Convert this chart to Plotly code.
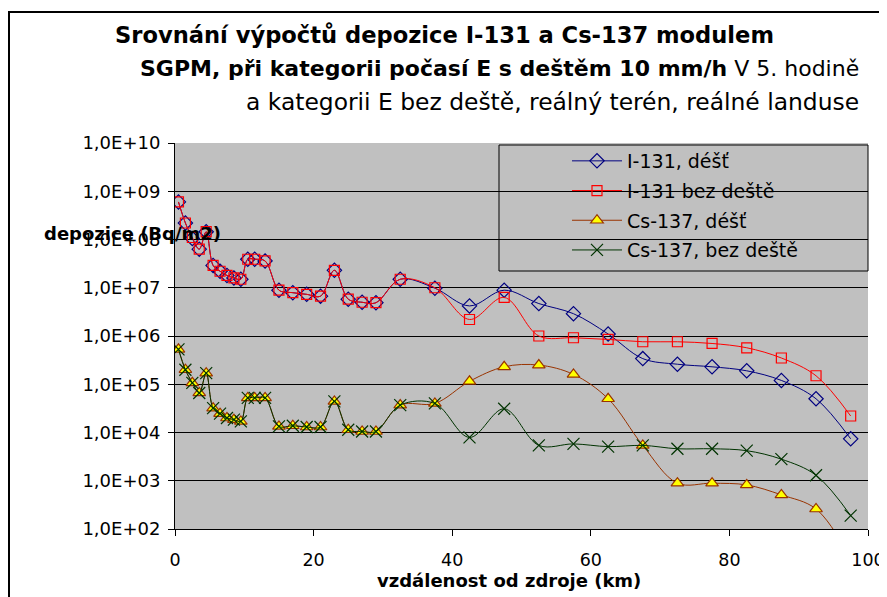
import plotly.graph_objects as go

# ---------------- data ----------------
distance_km = [0.5, 1.5, 2.5, 3.5, 4.5, 5.5, 6.5, 7.5, 8.5, 9.5, 10.5, 11.5, 13, 15, 17, 19, 21,
               23, 25, 27, 29, 32.5, 37.5, 42.5, 47.5, 52.5, 57.5, 62.5, 67.5, 72.5, 77.5,
               82.5, 87.5, 92.5, 97.5]

i131_rain = [6.0e8, 2.2e8, 1.05e8, 6.3e7, 1.45e8, 2.9e7, 2.2e7, 1.8e7, 1.6e7, 1.5e7, 3.9e7,
             3.9e7, 3.6e7, 8.9e6, 7.9e6, 7.3e6, 6.7e6, 2.3e7, 5.8e6, 5.0e6, 4.9e6, 1.5e7,
             9.8e6, 4.2e6, 8.9e6, 4.7e6, 2.9e6, 1.1e6, 3.4e5, 2.6e5, 2.3e5, 1.9e5, 1.2e5,
             5.0e4, 7.4e3]

i131_dry = [6.0e8, 2.2e8, 1.1e8, 6.3e7, 1.45e8, 2.9e7, 2.2e7, 1.8e7, 1.6e7, 1.5e7, 3.9e7,
            3.9e7, 3.6e7, 8.9e6, 7.9e6, 7.3e6, 6.7e6, 2.3e7, 5.8e6, 5.0e6, 4.9e6, 1.5e7,
            1.0e7, 2.2e6, 6.3e6, 1.0e6, 9.2e5, 8.5e5, 7.6e5, 7.6e5, 7.0e5, 5.7e5, 3.5e5,
            1.5e5, 2.2e4]

cs137_rain = [5.3e5, 2.0e5, 1.07e5, 6.6e4, 1.7e5, 3.2e4, 2.46e4, 2.0e4, 1.85e4, 1.7e4, 5.2e4,
              5.2e4, 5.2e4, 1.34e4, 1.38e4, 1.3e4, 1.3e4, 4.4e4, 1.14e4, 1.05e4, 1.05e4, 3.7e4,
              4.0e4, 1.15e5, 2.3e5, 2.5e5, 1.6e5, 5.0e4, 5.4e3, 8.9e2, 8.9e2, 8.2e2, 5.1e2,
              2.6e2, 25]

cs137_dry = [5.3e5, 2.0e5, 1.07e5, 6.6e4, 1.7e5, 3.2e4, 2.46e4, 2.0e4, 1.85e4, 1.7e4, 5.2e4,
             5.2e4, 5.2e4, 1.34e4, 1.38e4, 1.3e4, 1.3e4, 4.4e4, 1.14e4, 1.05e4, 1.05e4, 3.7e4,
             4.0e4, 7.9e3, 3.1e4, 5.4e3, 5.8e3, 5.1e3, 5.4e3, 4.6e3, 4.6e3, 4.2e3, 2.8e3,
             1.3e3, 1.9e2]

series_names = ["I-131, déšť", "I-131 bez deště", "Cs-137, déšť", "Cs-137, bez deště"]

y_tick_values = [1e2, 1e3, 1e4, 1e5, 1e6, 1e7, 1e8, 1e9, 1e10]
y_tick_labels = ["1,0E+02", "1,0E+03", "1,0E+04", "1,0E+05", "1,0E+06",
                 "1,0E+07", "1,0E+08", "1,0E+09", "1,0E+10"]
x_tick_values = [0, 20, 40, 60, 80, 100]

title_line1 = "Srovnání výpočtů depozice I-131 a Cs-137 modulem"
title_line2_bold = "SGPM, při kategorii počasí E s deštěm 10 mm/h"
title_line2_rest = " V 5. hodině"
title_line3 = "a kategorii E bez deště, reálný terén, reálné landuse"
x_title = "vzdálenost od zdroje (km)"
y_title = "depozice (Bq/m2)"

# ---------------- layout geometry ----------------
# the page body has an 8px margin, so the figure is placed 8px in from the window corner
OFF = 8
W, H = 887 - OFF, 597 - OFF
# plot area in window pixels: left 175, right 868, top 143, bottom 529
L, T = 175 - OFF, 143 - OFF
R = W - (868 - OFF)
B = H - (529 - OFF)
PW, PH = W - L - R, H - T - B


def px(xp):
    """window x pixel -> paper x"""
    return (xp - OFF - L) / PW


def py(yp):
    """window y pixel -> paper y"""
    return (H - B - (yp - OFF)) / PH


FONT = "DejaVu Sans"

fig = go.Figure()

fig.add_trace(go.Scatter(
    x=distance_km, y=i131_rain, name=series_names[0], mode="lines+markers",
    line=dict(color="#000080", width=1, shape="spline"),
    marker=dict(symbol="diamond-open", size=11, color="#000080", line=dict(width=1.2, color="#000080")),
    legendgroup="a"))
fig.add_trace(go.Scatter(
    x=distance_km, y=i131_dry, name=series_names[1], mode="lines+markers",
    line=dict(color="#FF0000", width=1, shape="spline"),
    marker=dict(symbol="square-open", size=10, color="#FF0000", line=dict(width=1.2, color="#FF0000")),
    legendgroup="b"))
fig.add_trace(go.Scatter(
    x=distance_km, y=cs137_rain, name=series_names[2], mode="lines+markers",
    line=dict(color="#993300", width=1, shape="spline"),
    marker=dict(symbol="triangle-up", size=11, color="#FFFF00", line=dict(width=1.2, color="#993300")),
    legendgroup="c"))
fig.add_trace(go.Scatter(
    x=distance_km, y=cs137_dry, name=series_names[3], mode="lines+markers",
    line=dict(color="#003300", width=1, shape="spline"),
    marker=dict(symbol="x-thin-open", size=12, color="#003300", line=dict(width=1.2, color="#003300")),
    legendgroup="d"))

annotations = [
    dict(text="<b>" + title_line1 + "</b>", x=px(444), y=py(35.5), xanchor="center", yanchor="middle",
         font=dict(family=FONT, size=22.6, color="black")),
    dict(text="<b>" + title_line2_bold + "</b>" + title_line2_rest, x=px(861), y=py(68.5),
         xanchor="right", yanchor="middle", font=dict(family=FONT, size=22, color="black")),
    dict(text=title_line3, x=px(861), y=py(102), xanchor="right", yanchor="middle",
         font=dict(family=FONT, size=23.4, color="black")),
    dict(text="<b>" + y_title + "</b>", x=px(42), y=py(233), xanchor="left", yanchor="middle",
         font=dict(family=FONT, size=18, color="black")),
    dict(text="<b>" + x_title + "</b>", x=px(509), y=py(580), xanchor="center", yanchor="middle",
         font=dict(family=FONT, size=18, color="black")),
]
for a in annotations:
    a.update(xref="paper", yref="paper", showarrow=False)

shapes = [
    # legend frame
    dict(type="rect", xref="paper", yref="paper", x0=px(499), x1=px(868), y0=py(271), y1=py(145),
         line=dict(color="black", width=1), fillcolor="rgba(0,0,0,0)", layer="above"),
    # outer chart frame
    dict(type="rect", xref="paper", yref="paper", x0=px(9), x1=px(930), y0=py(650), y1=py(12),
         line=dict(color="black", width=2), fillcolor="rgba(0,0,0,0)", layer="above"),
]

fig.update_layout(
    width=W, height=H,
    margin=dict(l=L, r=R, t=T, b=B, pad=0),
    paper_bgcolor="white", plot_bgcolor="#C0C0C0",
    font=dict(family=FONT, size=18, color="black"),
    showlegend=True,
    legend=dict(x=px(567), y=py(142), xanchor="left", yanchor="top",
                bgcolor="rgba(0,0,0,0)", borderwidth=0,
                font=dict(family=FONT, size=19, color="black"),
                tracegroupgap=2, itemwidth=50),
    annotations=annotations,
    shapes=shapes,
)

fig.update_xaxes(range=[0, 100], tickvals=x_tick_values, ticks="outside", ticklen=6,
                 tickcolor="black", showline=True, linecolor="black", linewidth=1,
                 showgrid=False, zeroline=False, ticklabelstandoff=9, automargin=False,
                 ticklabeloverflow="allow",
                 tickfont=dict(family=FONT, size=17.5, color="black"))
fig.update_yaxes(type="log", range=[2, 10], tickvals=y_tick_values, ticktext=y_tick_labels,
                 ticks="outside", ticklen=6, tickcolor="black", showline=True,
                 linecolor="black", linewidth=1, showgrid=True, gridcolor="black",
                 gridwidth=1, zeroline=False, ticklabelstandoff=4, automargin=False,
                 tickfont=dict(family=FONT, size=18, color="black"))

fig.write_html("out.html")
